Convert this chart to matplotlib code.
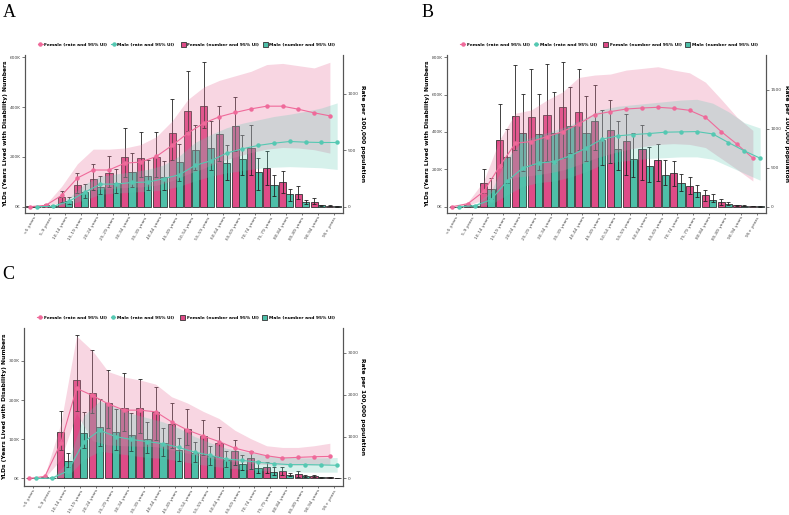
import numpy as np
import matplotlib
matplotlib.use('Agg')
import matplotlib.pyplot as plt
from matplotlib.lines import Line2D
from matplotlib.patches import Patch

# age groups
cats = ['<5 years', '5-9 years', '10-14 years', '15-19 years', '20-24 years', '25-29 years',
        '30-34 years', '35-39 years', '40-44 years', '45-49 years', '50-54 years', '55-59 years',
        '60-64 years', '65-69 years', '70-74 years', '75-79 years', '80-84 years', '85-89 years',
        '90-94 years', '95+ years']

# Panel A  (numbers in thousands, rates per 100,000)
a_f_num = [1, 5, 40, 87, 111, 134, 199, 196, 199, 295, 383, 403, 290, 323, 236, 155, 99, 51, 17, 4]
a_f_num_lo = [0, 2, 19, 55, 65, 81, 118, 118, 118, 188, 302, 315, 182, 222, 128, 88, 55, 32, 12, 2]
a_f_num_hi = [2, 9, 63, 135, 172, 204, 315, 299, 300, 431, 546, 580, 406, 442, 327, 222, 144, 85, 35, 8]
a_m_num = [0.5, 3, 24, 57, 80, 94, 138, 123, 120, 180, 227, 236, 174, 191, 139, 88, 51, 19, 5, 1]
a_m_num_lo = [0, 1, 12, 35, 52, 55, 79, 68, 68, 102, 146, 146, 108, 128, 68, 41, 21, 10, 3, 0.5]
a_m_num_hi = [1, 6, 40, 90, 122, 151, 215, 188, 184, 251, 329, 342, 249, 289, 195, 126, 72, 28, 7, 1.5]
a_f_rate = [0, 12, 100, 254, 325, 325, 386, 395, 445, 543, 652, 740, 797, 835, 867, 891, 891, 864, 832, 805]
a_f_rate_lo = [0, 5, 40, 110, 150, 160, 170, 175, 190, 230, 290, 340, 400, 440, 480, 510, 525, 520, 505, 475]
a_f_rate_hi = [0, 20, 180, 380, 510, 510, 520, 550, 620, 760, 950, 1060, 1120, 1160, 1200, 1260, 1270, 1250, 1230, 1280]
a_m_rate = [0, 3, 47, 127, 200, 200, 215, 218, 248, 283, 366, 407, 475, 513, 543, 563, 578, 572, 569, 569]
a_m_rate_lo = [0, 0, 20, 60, 110, 120, 130, 135, 150, 180, 230, 270, 300, 320, 340, 350, 355, 350, 345, 330]
a_m_rate_hi = [0, 10, 80, 200, 270, 290, 310, 330, 370, 450, 570, 640, 700, 740, 770, 800, 820, 845, 875, 920]

# Panel B
b_f_num = [0.5, 9, 128, 358, 486, 479, 490, 534, 508, 458, 411, 354, 310, 248, 178, 112, 62, 25, 7, 2]
b_f_num_lo = [0, 5, 73, 215, 305, 224, 242, 260, 305, 305, 233, 171, 144, 135, 109, 68, 28, 11, 4, 1]
b_f_num_hi = [1, 15, 201, 549, 759, 737, 762, 773, 735, 652, 572, 497, 436, 335, 246, 157, 91, 43, 10, 3]
b_m_num = [0.3, 5, 93, 265, 394, 390, 397, 433, 395, 358, 308, 256, 219, 169, 126, 77, 37, 16, 5, 1]
b_m_num_lo = [0, 3, 41, 126, 189, 194, 233, 290, 242, 224, 198, 157, 130, 118, 82, 50, 23, 8, 2, 0.5]
b_m_num_hi = [0.6, 8, 153, 415, 602, 602, 616, 640, 593, 518, 461, 394, 322, 248, 176, 118, 69, 25, 8, 2]
b_f_rate = [0, 38, 196, 517, 815, 837, 900, 965, 1063, 1183, 1221, 1255, 1268, 1277, 1264, 1238, 1149, 965, 803, 623]
b_f_rate_lo = [0, 15, 90, 280, 380, 400, 430, 470, 540, 620, 680, 730, 770, 800, 810, 800, 760, 620, 480, 330]
b_f_rate_hi = [0, 60, 330, 860, 1200, 1243, 1370, 1477, 1660, 1691, 1704, 1755, 1776, 1798, 1755, 1720, 1600, 1380, 1150, 980]
b_m_rate = [0, 13, 90, 325, 495, 560, 580, 653, 752, 867, 910, 927, 940, 957, 961, 965, 935, 824, 717, 623]
b_m_rate_lo = [0, 3, 30, 150, 260, 310, 330, 380, 450, 540, 580, 600, 620, 630, 640, 640, 610, 520, 430, 340]
b_m_rate_hi = [0, 25, 200, 620, 850, 920, 980, 1050, 1150, 1250, 1290, 1310, 1330, 1350, 1370, 1380, 1330, 1220, 1080, 1010]

# Panel C
c_f_num = [0.5, 4, 118, 252, 218, 192, 181, 181, 169, 138, 125, 108, 90, 71, 52, 29, 18, 12, 7, 3]
c_f_num_lo = [0, 2, 73, 171, 166, 128, 121, 115, 98, 77, 86, 61, 54, 35, 25, 14, 8, 4, 3, 1]
c_f_num_hi = [1, 6, 172, 366, 328, 277, 268, 255, 234, 193, 178, 149, 132, 98, 71, 41, 29, 18, 10, 4]
c_m_num = [0.3, 2, 44, 117, 132, 119, 110, 100, 91, 73, 66, 58, 48, 37, 26, 17, 9, 5, 3, 1]
c_m_num_lo = [0, 1, 29, 77, 82, 73, 69, 65, 56, 44, 42, 35, 29, 22, 14, 8, 5, 3, 1.5, 0.5]
c_m_num_hi = [0.6, 3, 66, 170, 203, 178, 166, 143, 129, 103, 94, 82, 71, 59, 44, 29, 14, 8, 4, 2]
c_f_rate = [0, 47, 840, 2150, 1980, 1780, 1630, 1630, 1590, 1351, 1155, 1013, 880, 723, 628, 542, 487, 503, 518, 526]
c_f_rate_lo = [0, 20, 450, 1550, 900, 800, 780, 770, 760, 680, 600, 520, 450, 400, 360, 330, 320, 320, 325, 330]
c_f_rate_hi = [0, 80, 1300, 3400, 3050, 2550, 2420, 2350, 2250, 1950, 1800, 1600, 1430, 1150, 950, 780, 740, 740, 780, 840]
c_m_rate = [0, 8, 180, 870, 1150, 1000, 930, 880, 830, 740, 628, 550, 463, 432, 385, 353, 330, 330, 322, 314]
c_m_rate_lo = [0, 2, 60, 450, 650, 600, 550, 500, 480, 420, 350, 300, 250, 220, 190, 170, 160, 150, 150, 150]
c_m_rate_hi = [0, 20, 400, 1500, 1850, 1700, 1550, 1450, 1350, 1200, 1000, 850, 720, 650, 580, 530, 500, 490, 490, 500]

F_BAR = '#DE4B87'
M_BAR = '#4DBFA8'
F_LINE = '#EF6A9A'
M_LINE = '#55C8B2'
F_RIB = '#E8789F'
M_RIB = '#5CC8B2'
SPINE = '#555555'


def draw_panel(ax, num, rate, ylim, yticks, rticks, rscale):
    f_num, f_lo, f_hi, m_num, m_lo, m_hi = [np.array(v, float) for v in num]
    f_r, f_rlo, f_rhi, m_r, m_rlo, m_rhi = [np.array(v, float) for v in rate]
    x = np.arange(len(cats))
    w = 0.45
    xf, xm = x - 0.23, x + 0.23

    ax.bar(xf, f_num, w, color=F_BAR, edgecolor='#333333', linewidth=0.6, zorder=2)
    ax.bar(xm, m_num, w, color=M_BAR, edgecolor='#333333', linewidth=0.6, zorder=2)
    ax.errorbar(xf, f_num, yerr=[f_num - f_lo, f_hi - f_num], fmt='none', ecolor='#222222',
                elinewidth=0.6, capsize=1.2, capthick=0.6, zorder=3)
    ax.errorbar(xm, m_num, yerr=[m_num - m_lo, m_hi - m_num], fmt='none', ecolor='#222222',
                elinewidth=0.6, capsize=1.2, capthick=0.6, zorder=3)
    ax.set_ylim(*ylim)
    ax.set_xlim(-0.55, 19.6)
    ax.set_yticks(yticks)
    ax.set_yticklabels([f'{t}K' for t in yticks])
    ax.set_xticks(x)
    ax.set_xticklabels(cats, rotation=60, ha='right', rotation_mode='anchor', fontsize=2.8, color='#444444')
    ax.set_ylabel('YLDs (Years Lived with Disability) Numbers', fontsize=4.3, fontweight='bold', labelpad=1)

    ax2 = ax.twinx()
    ax2.fill_between(xf, f_rlo, f_rhi, color=F_RIB, alpha=0.3, linewidth=0, zorder=1)
    ax2.fill_between(xm, m_rlo, m_rhi, color=M_RIB, alpha=0.25, linewidth=0, zorder=1)
    ax2.plot(xf, f_r, color=F_LINE, lw=0.8, marker='o', ms=2.2, zorder=4)
    ax2.plot(xm, m_r, color=M_LINE, lw=0.8, marker='o', ms=2.2, zorder=4)
    ax2.set_ylim(ylim[0] * rscale, ylim[1] * rscale)
    ax2.set_yticks(rticks)
    ax2.set_ylabel('Rate per 100,000 population', fontsize=4.3, fontweight='bold', rotation=270, labelpad=5)

    for a in (ax, ax2):
        a.spines['top'].set_visible(False)
        for s in ('left', 'right', 'bottom'):
            a.spines[s].set_color(SPINE)
            a.spines[s].set_linewidth(0.8)
        a.tick_params(labelsize=3.2, colors='#444444', length=2, width=0.5, pad=1.2)
    ax.tick_params(axis='x', length=1.5, pad=0.6)

    h1 = [Line2D([], [], color=F_LINE, lw=0.8, marker='o', ms=2.2),
          Line2D([], [], color=M_LINE, lw=0.8, marker='o', ms=2.2)]
    h2 = [Patch(facecolor=F_BAR, edgecolor='#333333', lw=0.6),
          Patch(facecolor=M_BAR, edgecolor='#333333', lw=0.6)]
    kw = dict(ncol=2, frameon=False, prop={'size': 3.2, 'weight': 'bold'}, handlelength=1.1,
              handleheight=1.2, handletextpad=0.3, columnspacing=0.9, borderaxespad=0, borderpad=0)
    l1 = ax2.legend(h1, ['Female (rate and 95% UI)', 'Male (rate and 95% UI)'],
                    loc='center right', bbox_to_anchor=(0.47, 1.065), **kw)
    ax2.add_artist(l1)
    ax2.legend(h2, ['Female (number and 95% UI)', 'Male (number and 95% UI)'],
               loc='center left', bbox_to_anchor=(0.49, 1.065), **kw)
    return ax2


fig = plt.figure(figsize=(7.89, 5.15), dpi=100)
W, H = 789, 515


def place(l, t, r, b):
    return fig.add_axes([l / W, 1 - b / H, (r - l) / W, (b - t) / H])


axA = place(25, 55, 343, 213)
draw_panel(axA,
           [a_f_num, a_f_num_lo, a_f_num_hi, a_m_num, a_m_num_lo, a_m_num_hi],
           [a_f_rate, a_f_rate_lo, a_f_rate_hi, a_m_rate, a_m_rate_lo, a_m_rate_hi],
           (-25.4, 609), [0, 200, 400, 600], [0, 500, 1000], 2.208)

axB = place(447, 55, 766, 213)
draw_panel(axB,
           [b_f_num, b_f_num_lo, b_f_num_hi, b_m_num, b_m_num_lo, b_m_num_hi],
           [b_f_rate, b_f_rate_lo, b_f_rate_hi, b_m_rate, b_m_rate_lo, b_m_rate_hi],
           (-33.8, 812), [0, 200, 400, 600, 800], [0, 500, 1000, 1500], 2.40)

axC = place(24, 328, 343, 486)
draw_panel(axC,
           [c_f_num, c_f_num_lo, c_f_num_hi, c_m_num, c_m_num_lo, c_m_num_hi],
           [c_f_rate, c_f_rate_lo, c_f_rate_hi, c_m_rate, c_m_rate_lo, c_m_rate_hi],
           (-19.3, 384), [0, 100, 200, 300], [0, 1000, 2000, 3000], 9.35)

for lab, px, py in [('A', 3, 4), ('B', 422, 4), ('C', 2, 266)]:
    fig.text(px / W, 1 - py / H, lab, fontsize=13, family='Liberation Serif', va='top', ha='left')

fig.savefig('out.png', dpi=100)
